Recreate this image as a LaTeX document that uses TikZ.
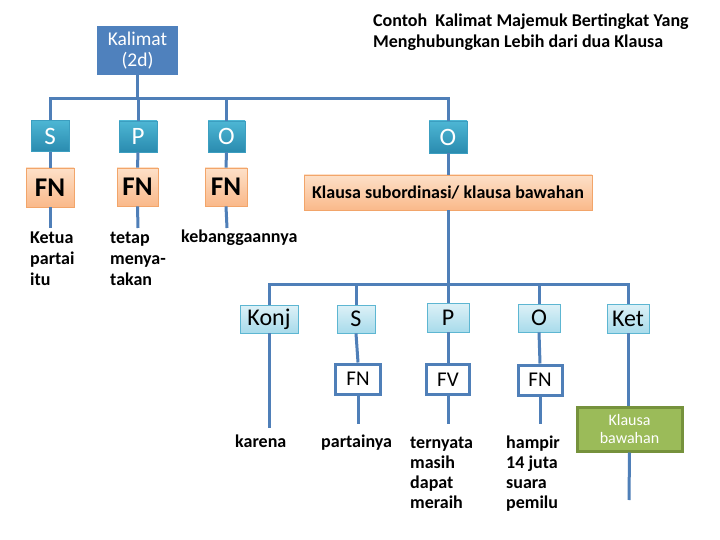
\documentclass[tikz,border=0pt]{standalone}
\usepackage{fontspec}
\setmainfont{Carlito}
\definecolor{lineblue}{HTML}{4F7FB8}
\definecolor{kalblue}{HTML}{4F81BD}
\definecolor{tealtop}{HTML}{4DB6D4}
\definecolor{tealbot}{HTML}{2A8BAF}
\definecolor{tealdraw}{HTML}{3C9EC0}
\definecolor{orgtop}{HTML}{FDE0C8}
\definecolor{orgbot}{HTML}{FAB98A}
\definecolor{orgdraw}{HTML}{F2A56A}
\definecolor{cyantop}{HTML}{DDF1F7}
\definecolor{cyanbot}{HTML}{A8DBEB}
\definecolor{cyandraw}{HTML}{5DB6D2}
\definecolor{greenfill}{HTML}{9BBB59}
\definecolor{greendraw}{HTML}{76923C}
\begin{document}
\begin{tikzpicture}[x=1pt,y=-1pt,
  conn/.style={draw=lineblue,line width=3pt},
  kalbox/.style={fill=kalblue,text=white,inner sep=0pt,align=center,font=\fontsize{19.5}{21}\selectfont},
  topbox/.style={top color=tealtop,bottom color=tealbot,draw=tealdraw,line width=0.6pt,text=white,inner sep=0pt,font=\fontsize{25}{27}\selectfont},
  fnbox/.style={top color=orgtop,bottom color=orgbot,draw=orgdraw,line width=0.8pt,inner sep=0pt,font=\bfseries\fontsize{27}{29}\selectfont},
  lowbox/.style={top color=cyantop,bottom color=cyanbot,draw=cyandraw,line width=0.8pt,inner sep=0pt,font=\fontsize{24}{26}\selectfont},
  whitebox/.style={fill=white,draw=lineblue,line width=3pt,inner sep=0pt,font=\fontsize{21}{23}\selectfont},
  greenbox/.style={fill=greenfill,draw=greendraw,line width=3pt,inner sep=0pt,text=white,align=center,font=\fontsize{16}{17.5}\selectfont},
  lbl/.style={inner sep=0pt,anchor=base west,align=left,font=\bfseries\fontsize{18}{21}\selectfont},
  lblb/.style={inner sep=0pt,anchor=base west,align=left,font=\bfseries\fontsize{18}{20}\selectfont}
]
\useasboundingbox[fill=white] (0,0) rectangle (720,540);

% title (anchored at the baseline of its last line)
\node[lbl,font=\bfseries\fontsize{18}{20.7}\selectfont] (title) at (373,47.5) {Contoh\ \ Kalimat Majemuk Bertingkat Yang\\Menghubungkan Lebih dari dua Klausa};

% top level
\coordinate (bus) at (0,99);
\node[kalbox,minimum width=81pt,minimum height=49pt] (kal) at (137.5,50.5) {Kalimat\\(2d)};
\node[topbox,minimum width=38pt,minimum height=31pt] (S) at (50,136) {S};
\node[topbox,minimum width=38pt,minimum height=31pt] (P) at (138,136.5) {P};
\node[topbox,minimum width=37pt,minimum height=31pt] (O) at (226.5,136.5) {O};
\node[topbox,minimum width=38pt,minimum height=32pt] (O2) at (448,137) {O};

\node[fnbox,minimum width=48pt,minimum height=39pt] (FN1) at (50,187.5) {FN};
\node[fnbox,minimum width=41pt,minimum height=38pt] (FN2) at (137.5,187) {FN};
\node[fnbox,minimum width=42pt,minimum height=38pt] (FN3) at (226,187) {FN};
\node[fnbox,minimum width=288pt,minimum height=35pt,font=\bfseries\fontsize{18}{20}\selectfont] (KS) at (448,192.5) {Klausa subordinasi/ klausa bawahan};

\draw[conn] (kal.south) -- (kal.south |- bus);
\draw[conn] (S.north) |- (O2.north |- bus) -- (O2.north);
\draw[conn] (P.north) -- (P.north |- bus);
\draw[conn] (O.north) -- (O.north |- bus);
\draw[conn] (S.south) -- (FN1.north);
\draw[conn] (P.south) -- (FN2.north);
\draw[conn] (O.south) -- (FN3.north);
\draw[conn] (O2.south) -- (O2.south |- KS.north);

\coordinate (e1) at (50,228);
\coordinate (e2) at (138,228);
\coordinate (e3) at (227,228);
\draw[conn] (FN1.south) -- (e1);
\draw[conn] (FN2.south) -- (e2);
\draw[conn] (FN3.south) -- (e3);

\node[lbl] (t1) at (30,285) {Ketua\\partai\\itu};
\node[lbl] (t2) at (110,285) {tetap\\menya-\\takan};
\node[lbl] (t3) at (181,243) {kebanggaannya};

% lower level
\coordinate (bus2) at (0,284);
\node[lowbox,minimum width=58pt,minimum height=28pt] (konj) at (269,319) {Konj};
\node[lowbox,minimum width=38pt,minimum height=28pt] (S2) at (356,319) {S};
\node[lowbox,minimum width=42pt,minimum height=29pt] (P2) at (448,317.5) {P};
\node[lowbox,minimum width=42pt,minimum height=28pt] (Ob) at (539,318) {O};
\node[lowbox,minimum width=42pt,minimum height=29pt] (ket) at (628,318.5) {Ket};

\node[whitebox,minimum width=45pt,minimum height=30pt] (FNb) at (358,379) {FN};
\node[whitebox,minimum width=43pt,minimum height=30pt] (FV) at (448,379.5) {FV};
\node[whitebox,minimum width=44pt,minimum height=30pt] (FNc) at (540,380) {FN};
\node[greenbox,minimum width=105pt,minimum height=44pt] (G) at (629.5,429) {Klausa\\bawahan};

\draw[conn] (KS.south) -- (KS.south |- bus2);
\draw[conn] (konj.north) |- (ket.north |- bus2) -- (ket.north);
\draw[conn] (S2.north) -- (S2.north |- bus2);
\draw[conn] (P2.north) -- (P2.north |- bus2);
\draw[conn] (Ob.north) -- (Ob.north |- bus2);
\draw[conn] (S2.south) -- (FNb.north);
\draw[conn] (P2.south) -- (FV.north);
\draw[conn] (Ob.south) -- (FNc.north);
\draw[conn] (ket.south) -- (ket.south |- G.north);

\coordinate (k1) at (269,428);
\coordinate (k2) at (358,424);
\coordinate (k3) at (448,424);
\coordinate (k4) at (540,424);
\coordinate (k5) at (629,500);
\draw[conn] (konj.south) -- (k1);
\draw[conn] (FNb.south) -- (k2);
\draw[conn] (FV.south) -- (k3);
\draw[conn] (FNc.south) -- (k4);
\draw[conn] (G.south) -- (k5);

\node[lblb] (b1) at (235,447) {karena};
\node[lblb] (b2) at (321,447) {partainya};
\node[lblb] (b3) at (410,508) {ternyata\\masih\\dapat\\meraih};
\node[lblb] (b4) at (506,508) {hampir\\14 juta\\suara\\pemilu};
\end{tikzpicture}
\end{document}
